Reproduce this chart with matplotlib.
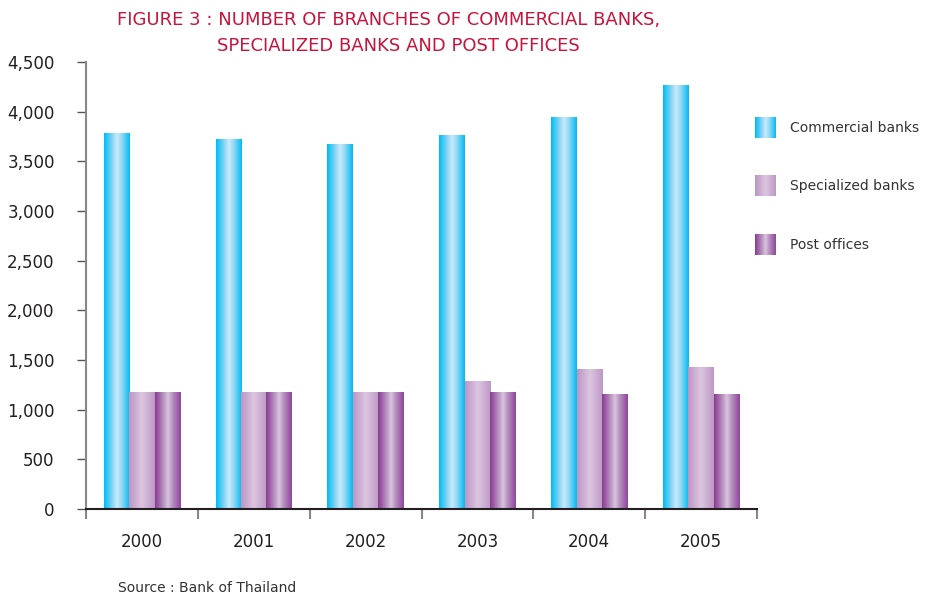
import numpy as np
import matplotlib.pyplot as plt
from matplotlib.colors import LinearSegmentedColormap

years = ['2000', '2001', '2002', '2003', '2004', '2005']
commercial = [3776, 3716, 3666, 3756, 3937, 4260]
specialized = [1168, 1168, 1168, 1279, 1400, 1420]
post_offices = [1168, 1168, 1168, 1168, 1148, 1148]
series_names = ['Commercial banks', 'Specialized banks', 'Post offices']

# horizontal shading for each bar type (edge -> highlight -> edge)
cmap_comm = LinearSegmentedColormap.from_list('comm', [
    (0.0, '#00BDF2'), (0.3, '#7FD3F5'), (0.5, '#CBEAF9'),
    (0.7, '#8FD8F6'), (1.0, '#00BDF2')])
cmap_spec = LinearSegmentedColormap.from_list('spec', [
    (0.0, '#BD96C4'), (0.5, '#DCC6E0'), (1.0, '#BE98C5')])
cmap_post = LinearSegmentedColormap.from_list('post', [
    (0.0, '#8A3B93'), (0.3, '#B48CBC'), (0.5, '#D9C5DD'),
    (0.7, '#B48CBC'), (1.0, '#9345A0')])
cmaps = [cmap_comm, cmap_spec, cmap_post]

grad = np.linspace(0, 1, 64).reshape(1, -1)


def gradient_bar(ax, x0, width, height, cmap):
    ax.imshow(grad, cmap=cmap, extent=(x0, x0 + width, 0, height),
              aspect='auto', interpolation='bilinear', zorder=2)


fig = plt.figure(figsize=(9.27, 5.95), dpi=100)
ax = fig.add_axes([86 / 927, 86 / 595, 671 / 927, 447 / 595])

bw = 0.228
x = np.arange(len(years))
for i, vals in enumerate([commercial, specialized, post_offices]):
    for xi, v in zip(x, vals):
        gradient_bar(ax, xi - 1.5 * bw + i * bw, bw, v, cmaps[i])

ax.set_xlim(-0.5, 5.5)
ax.set_ylim(0, 4500)

ax.set_yticks(np.arange(0, 4501, 500))
ax.set_yticklabels(['{:,}'.format(v) for v in range(0, 4501, 500)])
ax.tick_params(axis='y', direction='out', length=6.5, width=1,
               color='#555555', pad=16, labelsize=12, labelcolor='#231F20')

ax.set_xticks(x)
ax.set_xticklabels(years)
ax.tick_params(axis='x', which='major', length=0, pad=17, labelsize=12,
               labelcolor='#231F20')
ax.set_xticks(np.arange(-0.5, 5.6, 1), minor=True)
ax.tick_params(axis='x', which='minor', direction='out', length=7.5,
               width=1.5, color='#888888')

for s in ['top', 'right']:
    ax.spines[s].set_visible(False)
ax.spines['left'].set_color('#888888')
ax.spines['left'].set_linewidth(1.5)
ax.spines['bottom'].set_color('#231F20')
ax.spines['bottom'].set_linewidth(1.5)
ax.spines['bottom'].set_zorder(3)

# legend swatches with the same shading
leg_y = [117, 175, 234]
for name, cm, yy in zip(series_names, cmaps, leg_y):
    lax = fig.add_axes([755 / 927, 1 - (yy + 21) / 595, 21 / 927, 21 / 595])
    lax.imshow(grad, cmap=cm, aspect='auto', interpolation='bilinear')
    lax.axis('off')
    fig.text(790 / 927, 1 - (yy + 11) / 595, name, fontsize=10,
             color='#333333', va='center', ha='left')

fig.text(389 / 927, 1 - 20 / 595,
         'FIGURE 3 : NUMBER OF BRANCHES OF COMMERCIAL BANKS,',
         color='#C8143C', fontsize=13, ha='center', va='center')
fig.text(398 / 927, 1 - 46 / 595,
         'SPECIALIZED BANKS AND POST OFFICES',
         color='#C8143C', fontsize=13, ha='center', va='center')

fig.text(118 / 927, 1 - 588 / 595, 'Source : Bank of Thailand',
         fontsize=10, color='#333333', ha='left', va='center')

fig.savefig('out.png', dpi=100)
